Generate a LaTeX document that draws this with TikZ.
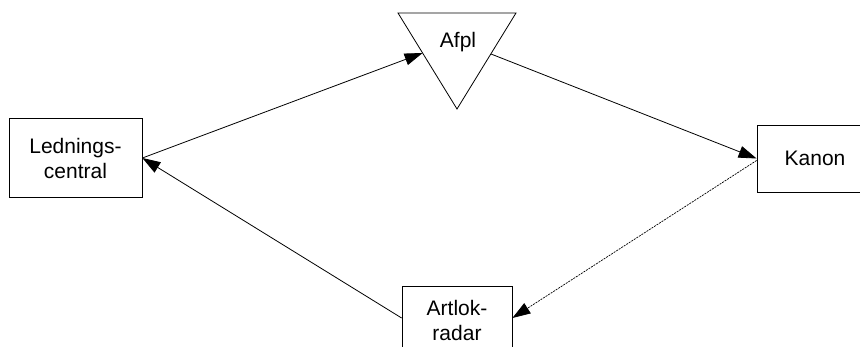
\documentclass[tikz,border=0pt]{standalone}
\usepackage{fontspec}
\setmainfont{Liberation Sans}
\usetikzlibrary{arrows.meta}
\begin{document}
\begin{tikzpicture}[x=1pt,y=-1pt,
  box/.style={draw, line width=0.8pt, inner sep=0pt, align=center,
    font=\fontsize{21}{25}\selectfont},
  lbl/.style={inner sep=0pt, font=\fontsize{21}{25}\selectfont},
  arr/.style={line width=0.8pt, -{Triangle[length=18pt,width=12pt]}},
  dots/.style={line width=0.7pt, dash pattern=on 2pt off 1pt}]
\useasboundingbox (0,0) rectangle (860,347);
\begin{scope}
\clip (0,0) rectangle (860,347);
\node[box, minimum width=133pt, minimum height=79pt] (L) at (75.5,158) {Lednings-\\central};
\node[box, minimum width=116pt, minimum height=67pt] (K) at (815,158.5) {Kanon};
\node[box, minimum width=110pt, minimum height=68pt] (A) at (457,320) {Artlok-\\radar};
\draw[line width=0.8pt] (398,13) coordinate (t1) -- (516,13) coordinate (t2) -- (457,109) coordinate (t3) -- cycle;
\node[lbl] (P) at (458,42) {Afpl};
\coordinate (pl) at (422.6,53);
\coordinate (pr) at (491,54);
\coordinate (kd) at ([yshift=-2pt]K.west);
\coordinate (ae) at ([yshift=2pt]A.east);
\coordinate (aw) at ([yshift=2pt]A.west);
\draw[arr] (L.east) -- (pl);
\draw[arr] (pr) -- (K.west);
\draw[arr, dots] (kd) -- (ae);
\draw[arr] (aw) -- (L.east);
\end{scope}
\end{tikzpicture}
\end{document}
